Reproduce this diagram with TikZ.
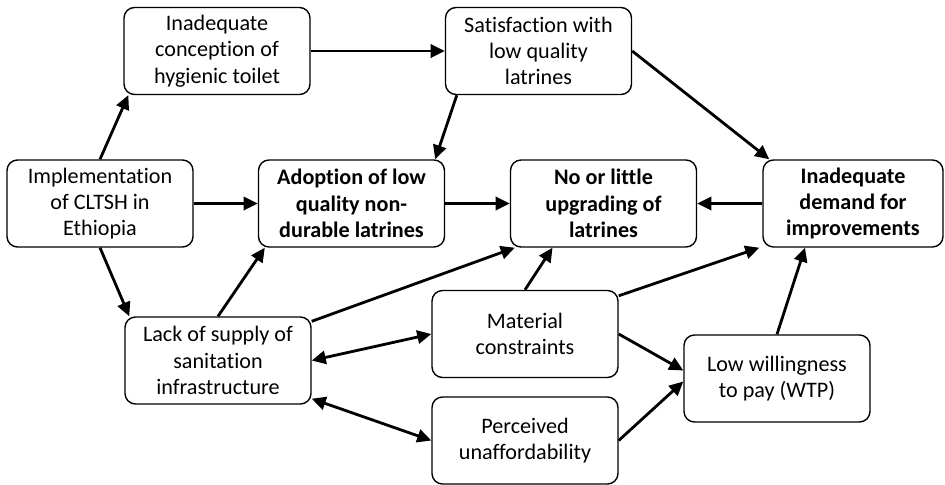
\documentclass[tikz,border=0pt]{standalone}
\usepackage{fontspec}
\setmainfont{Carlito}[Ligatures={NoCommon,NoContextual,NoRare},Contextuals=NoAlternate]
\usepackage{tikz}
\usetikzlibrary{arrows.meta,positioning}
\tikzset{
  causebox/.style={draw, rounded corners=6pt, fill=white, line width=0.8pt,
    minimum width=3.72cm, minimum height=1.74cm,
    align=center, font=\fontsize{12.6}{15}\selectfont},
  keybox/.style={causebox, font=\fontsize{12.6}{15}\selectfont\bfseries},
  arr/.style={-{Triangle[length=8pt, width=7.5pt]}, line width=1.6pt},
  darr/.style={{Triangle[length=8pt, width=7.5pt]}-{Triangle[length=8pt, width=7.5pt]}, line width=1.6pt},
}

\begin{document}
\begin{tikzpicture}
  \useasboundingbox (0,0) rectangle (18.9,-9.7);

  % Top row
  \node[causebox] (concept) at (4.34,-1.02)
    {Inadequate\\conception of\\hygienic toilet};
  \node[causebox] (satis) at (10.77,-1.02)
    {Satisfaction with\\low quality\\latrines};

  % Middle row
  \node[causebox] (impl) at (2.0,-4.07)
    {Implementation\\of CLTSH in\\Ethiopia};
  \node[keybox] (adopt) at (7.03,-4.07)
    {Adoption of low\\quality non-\\durable latrines};
  \node[keybox] (noup) at (12.07,-4.07)
    {No or little\\upgrading of\\latrines};
  \node[keybox, minimum width=3.6cm] (demand) at (17.06,-4.07)
    {Inadequate\\demand for\\improvements};

  % Bottom rows
  \node[causebox] (lack) at (4.36,-7.21)
    {Lack of supply of\\sanitation\\infrastructure};
  \node[causebox] (material) at (10.5,-6.68)
    {Material\\constraints};
  \node[causebox] (perceived) at (10.5,-8.81)
    {Perceived\\unaffordability};
  \node[causebox] (wtp) at (15.54,-7.57)
    {Low willingness\\to pay (WTP)};

  % Arrows
  \draw[arr] (impl.north) -- ([xshift=0.1cm]concept.south west);
  \draw[arr] (impl.east) -- (adopt.west);
  \draw[arr] (impl.south) -- ([xshift=0.1cm]lack.north west);
  \draw[arr] (concept.east) -- (satis.west);
  \draw[arr] ([xshift=0.24cm]satis.south west) -- ([xshift=-0.2cm]adopt.north east);
  \draw[arr] (satis.east) -- ([xshift=0.14cm]demand.north west);
  \draw[arr] (adopt.east) -- (noup.west);
  \draw[arr] (demand.west) -- (noup.east);
  \draw[arr] (lack.north) -- ([xshift=0.14cm]adopt.south west);
  \draw[arr] ([yshift=-0.1cm]lack.north east) -- ([xshift=0.1cm]noup.south west);
  \draw[darr] (lack.east) -- (material.west);
  \draw[darr] ([yshift=0.12cm]lack.south east) -- (perceived.west);
  \draw[arr] (material.north) -- ([xshift=-1.02cm]noup.south);
  \draw[arr] ([yshift=-0.12cm]material.north east) -- ([xshift=-0.06cm]demand.south west);
  \draw[arr] (material.east) -- ([yshift=0.16cm]wtp.west);
  \draw[arr] (perceived.east) -- ([yshift=-0.06cm]wtp.west);
  \draw[arr] (wtp.north) -- ([xshift=-0.96cm]demand.south);
\end{tikzpicture}
\end{document}
